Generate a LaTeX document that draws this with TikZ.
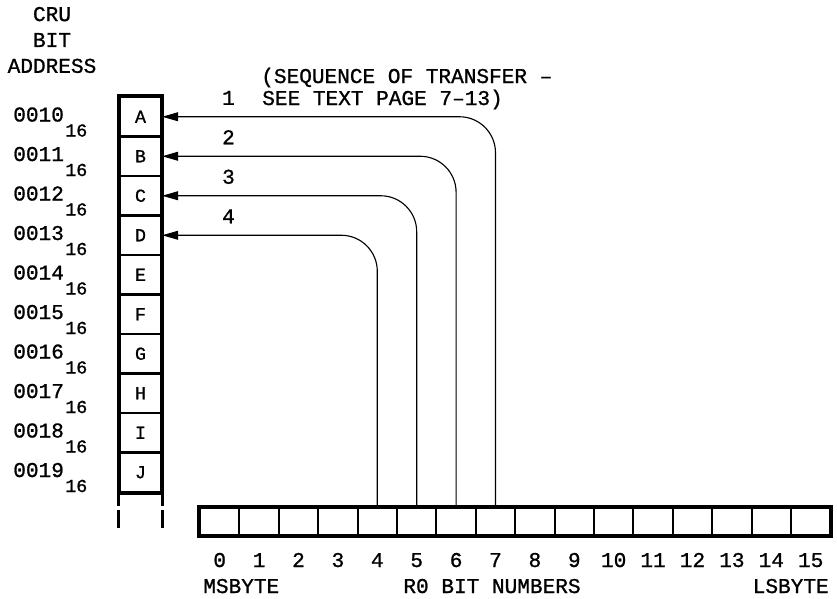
\documentclass[tikz,border=0pt]{standalone}
\usepackage{fontspec}
\setmainfont{Liberation Mono}[FakeBold=1]
\usetikzlibrary{arrows.meta}
\usetikzlibrary{positioning}

\newcommand{\lblsize}{\fontsize{15}{18}\selectfont}
\newcommand{\subsize}{\fontsize{13}{15}\selectfont}

\tikzset{
  colcell/.style={draw, line width=1.5pt, minimum width=1.025cm, minimum height=0.9875cm, inner sep=0pt, font=\subsize},
  regcell/.style={draw, line width=1.5pt, minimum width=0.985cm, minimum height=0.68cm, inner sep=0pt},
  lbl/.style={inner sep=0pt, font=\lblsize},
  xfer/.style={line width=0.8pt, rounded corners=0.9cm, -{Triangle[length=0.4cm,width=0.22cm]}},
  contline/.style={line width=2.2pt, dash pattern=on 9pt off 3pt on 14pt off 100pt},
}

\begin{document}
\begin{tikzpicture}[x=0.025cm, y=0.025cm]
    \useasboundingbox (0,0) rectangle (837,-599);
    % CRU column with addresses
    \node[lbl, align=center, font=\fontsize{15}{18.4}\selectfont] (head) at (52,-40) {CRU\\BIT\\ADDRESS};
    \foreach \l [count=\i from 0] in {A,B,C,D,E,F,G,H,I,J} {
        \node[colcell] (cell\l) at (140.5,-116.75-39.5*\i) {\l};
        \node[lbl, anchor=base west] (addr\i) at (13,-121.5-39.5*\i) {001\i\hspace{1pt}\raisebox{-0.375cm}{\subsize 16}};
    }
    \draw[line width=2.2pt] (cellA.north west) rectangle (cellJ.south east);
    \draw[contline] (cellJ.south west) -- ++(0,-35);
    \draw[contline] (cellJ.south east) -- ++(0,-35);
    % R0 register
    \foreach \b in {0,...,15} {
        \node[regcell] (r\b) at (219.7+39.4*\b,-521.5) {};
        \node[lbl, anchor=base] (bit\b) at (219.7+39.4*\b,-567) {\b};
    }
    \draw[line width=2.2pt] (r0.north west) rectangle (r15.south east);
    \node[lbl, anchor=base west] (msb) at (203,-593) {MSBYTE};
    \node[lbl, anchor=base] (regname) at (492,-593) {R0 BIT NUMBERS};
    \node[lbl, anchor=base east] (lsb) at (829,-593) {LSBYTE};
    % transfer sequence
    \node[lbl, anchor=base west] (note1) at (261,-83) {(SEQUENCE OF TRANSFER –};
    \node[lbl, anchor=base west] (note2) at (262,-105) {SEE TEXT PAGE 7–13)};
    \draw[xfer] (r7.north) |- (cellA.east);
    \draw[xfer] (r6.north) |- (cellB.east);
    \draw[xfer] (r5.north) |- (cellC.east);
    \draw[xfer] (r4.north) |- (cellD.east);
    \foreach \n/\l in {1/A,2/B,3/C,4/D}
        \node[lbl, anchor=base] (step\n) at (228.5, {-116.75-39.5*(\n-1)+12}) {\n};
\end{tikzpicture}
\end{document}
